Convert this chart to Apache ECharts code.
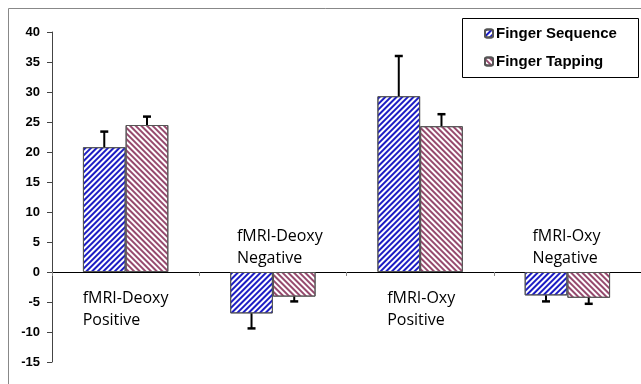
<!DOCTYPE html>
<html>
<head>
<meta charset="utf-8">
<script src="https://cdn.jsdelivr.net/npm/echarts@6/dist/echarts.min.js"></script>
<style>html,body{margin:0;padding:0;background:#fff}#c{width:641px;height:384px}</style>
</head>
<body>
<div id="c"></div>
<script>
// ---- data ----
var categories = ['fMRI-Deoxy\nPositive', 'fMRI-Deoxy\nNegative', 'fMRI-Oxy\nPositive', 'fMRI-Oxy\nNegative'];
var seriesNames = ['Finger Sequence', 'Finger Tapping'];
var seqValues = [20.8, -6.9, 29.3, -3.9];
var seqErrors = [2.6, 2.5, 6.7, 1.0];
var tapValues = [24.5, -4.1, 24.3, -4.3];
var tapErrors = [1.4, 0.8, 2.0, 1.0];
var yTicks = [-15, -10, -5, 0, 5, 10, 15, 20, 25, 30, 35, 40];

// ---- layout (not data) ----
var labelDx = [-43, -36, -33, -35];
var labelAbove = [false, true, false, true];
var BAR_FRAC = 0.29;

var chart = echarts.init(document.getElementById('c'));

function errSeries(values, errors, sign) {
  return {
    type: 'custom',
    silent: true,
    z: 5,
    data: values.map(function (v, i) { return [i, v, errors[i]]; }),
    renderItem: function (params, api) {
      var i = api.value(0), v = api.value(1), e = api.value(2);
      var band = api.size([1, 0])[0];
      var off = sign * band * BAR_FRAC / 2;
      var p0 = api.coord([i, v]);
      var end = v >= 0 ? v + e : v - e;
      var p1 = api.coord([i, end]);
      var x = p0[0] + off;
      return {
        type: 'group',
        children: [
          { type: 'line', shape: { x1: x, y1: p0[1], x2: x, y2: p1[1] }, style: { stroke: '#000', lineWidth: 2 } },
          { type: 'line', shape: { x1: x - 4, y1: p1[1], x2: x + 4, y2: p1[1] }, style: { stroke: '#000', lineWidth: 2.5 } }
        ]
      };
    }
  };
}

var seqDecal = { symbol: 'rect', symbolSize: 1, dashArrayX: [1, 0], dashArrayY: [2, 2], rotation: -Math.PI / 4, color: '#1c1cc4' };
var tapDecal = { symbol: 'rect', symbolSize: 1, dashArrayX: [1, 0], dashArrayY: [2, 2], rotation: Math.PI / 4, color: '#964a6e' };

var option = {
  animation: false,
  backgroundColor: '#fff',
  grid: { left: 52, right: -3, top: 32, bottom: 22, containLabel: false },
  legend: {
    orient: 'vertical',
    left: 484,
    top: 26,
    itemWidth: 8,
    itemHeight: 8,
    itemGap: 13,
    padding: 0,
    data: seriesNames,
    textStyle: { fontFamily: 'Arial, Liberation Sans', fontWeight: 'bold', fontSize: 15, color: '#000', padding: [0, 0, 0, -2] }
  },
  xAxis: {
    type: 'category',
    data: categories,
    axisLine: { onZero: true, lineStyle: { color: '#000', width: 1 } },
    axisTick: { show: true, length: 4, lineStyle: { color: '#888' } },
    axisLabel: { show: false },
    splitLine: { show: false }
  },
  yAxis: {
    type: 'value',
    min: yTicks[0],
    max: yTicks[yTicks.length - 1],
    interval: yTicks[1] - yTicks[0],
    axisLine: { show: true, lineStyle: { color: '#444', width: 1 } },
    axisTick: { show: true, length: 5, lineStyle: { color: '#444' } },
    axisLabel: { margin: 12, fontFamily: 'Arial, Liberation Sans', fontWeight: 'bold', fontSize: 13, color: '#000' },
    splitLine: { show: false }
  },
  series: [
    {
      name: seriesNames[0], type: 'bar', data: seqValues, barWidth: (BAR_FRAC * 100) + '%', barGap: '0%',
      itemStyle: { color: '#fff', borderColor: '#555', borderWidth: 1, decal: seqDecal }
    },
    {
      name: seriesNames[1], type: 'bar', data: tapValues, barWidth: (BAR_FRAC * 100) + '%', barGap: '0%',
      itemStyle: { color: '#fff', borderColor: '#555', borderWidth: 1, decal: tapDecal }
    },
    errSeries(seqValues, seqErrors, -1),
    errSeries(tapValues, tapErrors, 1)
  ]
};
chart.setOption(option);

function placeLabels() {
  var y0 = chart.convertToPixel({ yAxisIndex: 0 }, 0);
  var elements = [
    { type: 'rect', z: -10, silent: true, shape: { x: 8.5, y: 8.5, width: 700, height: 400 }, style: { fill: 'none', stroke: '#888', lineWidth: 1 } },
    { type: 'rect', z: -5, silent: true, shape: { x: 462.5, y: 18.5, width: 176, height: 59 }, style: { fill: '#fff', stroke: '#000', lineWidth: 1 } }
  ];
  categories.forEach(function (c, i) {
    var cx = chart.convertToPixel({ xAxisIndex: 0 }, i);
    elements.push({
      type: 'text', silent: true,
      x: cx + labelDx[i],
      y: labelAbove[i] ? y0 - 3 : y0 + 15,
      style: {
        text: c,
        font: '16px "Open Sans", "Noto Sans", sans-serif',
        lineHeight: 22,
        fill: '#000',
        align: 'left',
        verticalAlign: labelAbove[i] ? 'bottom' : 'top'
      }
    });
  });
  chart.setOption({ graphic: { elements: elements } });
}
placeLabels();
</script>
</body>
</html>
